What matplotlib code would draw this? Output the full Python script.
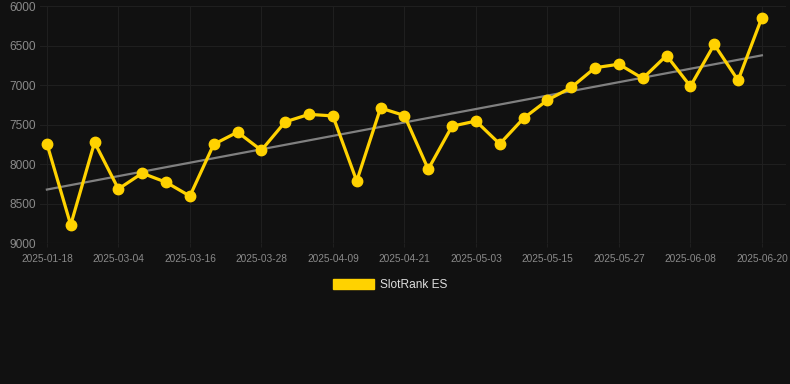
import numpy as np
import matplotlib.pyplot as plt
from matplotlib.patches import Patch

# dates (only every 3rd one is shown on the axis)
dates = ['2025-01-18', '2025-02-05', '2025-02-20',
         '2025-03-04', '2025-03-08', '2025-03-12', '2025-03-16', '2025-03-20', '2025-03-24',
         '2025-03-28', '2025-04-01', '2025-04-05', '2025-04-09', '2025-04-13', '2025-04-17',
         '2025-04-21', '2025-04-25', '2025-04-29', '2025-05-03', '2025-05-07', '2025-05-11',
         '2025-05-15', '2025-05-19', '2025-05-23', '2025-05-27', '2025-05-31', '2025-06-04',
         '2025-06-08', '2025-06-12', '2025-06-16', '2025-06-20']
rank = [7740, 8770, 7725, 8315, 8115, 8230, 8405, 7750, 7595, 7825, 7465, 7370,
        7390, 8215, 7290, 7385, 8065, 7520, 7455, 7745, 7420, 7190, 7030, 6780,
        6735, 6915, 6625, 7015, 6485, 6940, 6145]
series_name = 'SlotRank ES'

bg = '#111111'
gold = '#FFD200'

fig = plt.figure(figsize=(7.9, 3.84), dpi=100, facecolor=bg)
ax = fig.add_axes([0.0506, 0.367, 0.944, 0.617], facecolor=bg)

x = np.arange(len(rank))
ax.plot(x, rank, color=gold, lw=2.3, marker='o', markersize=7.5, zorder=3)

# trend line (least squares)
k, b = np.polyfit(x, rank, 1)
ax.plot([x[0], x[-1]], [k * x[0] + b, k * x[-1] + b], color='#808080', lw=1.6, zorder=2)

ax.set_ylim(9000, 6000)
ax.set_xlim(-0.29, len(rank) - 1 + 1.0)
ax.set_yticks([6000, 6500, 7000, 7500, 8000, 8500, 9000])
ax.set_xticks(x[::3])
ax.set_xticklabels(dates[::3])

ax.grid(True, color='#1f1f1f', lw=0.8)
for s in ax.spines.values():
    s.set_visible(False)
ax.axhline(9000, color='#262626', lw=0.8, zorder=1)
ax.tick_params(axis='y', length=0, pad=3, labelsize=8.6, labelcolor='#8a8a8a')
ax.tick_params(axis='x', length=3, color='#1f1f1f', pad=5, labelsize=7.3, labelcolor='#8a8a8a')
for t in ax.get_xticklabels() + ax.get_yticklabels():
    t.set_fontfamily('Liberation Sans')

fig.legend(handles=[Patch(facecolor=gold, edgecolor=gold, label=series_name)],
           loc='center', bbox_to_anchor=(0.494, 0.258), frameon=False,
           handlelength=3.4, handleheight=1.0, handletextpad=0.5,
           prop={'family': 'Liberation Sans', 'size': 8.6}, labelcolor='#dddddd')

fig.savefig('out.png', dpi=100, facecolor=bg)
